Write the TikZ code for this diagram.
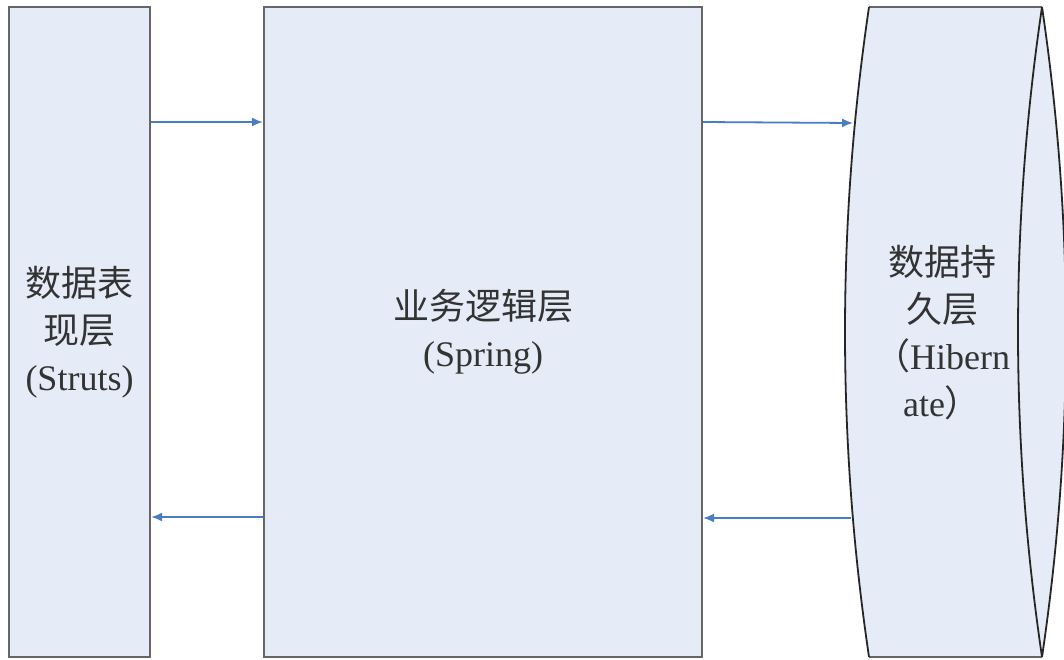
\documentclass[tikz,border=0pt]{standalone}
\usepackage{fontspec}
\setmainfont{Liberation Serif}
\newfontfamily\cjk{Noto Sans CJK SC}
\usetikzlibrary{arrows.meta}
\definecolor{boxfill}{HTML}{E6ECF7}
\definecolor{flowblue}{HTML}{4A7CC4}

\begin{document}
\begin{tikzpicture}
[x=1pt, y=-1pt,
layer/.style={rectangle, draw=black!60, line width=2.2pt, fill=boxfill, minimum height=650pt, align=center, text=black!80, font=\fontsize{36}{47}\selectfont},
edge/.style={black!85, line width=1.8pt},
flow/.style={-{Latex[length=11pt,width=9pt]}, draw=flowblue, line width=1.8pt}]

\useasboundingbox (0,0) rectangle (1064,659);

% persistence layer drawn as a drum
\fill[boxfill] (869,7) .. controls (837,223.7) and (837,440.3) .. (869,657) -- (1042,657) .. controls (1074,440.3) and (1074,223.7) .. (1042,7) -- cycle;
\draw[black!60, line width=2.2pt] (869,7) -- (1042,7);
\draw[black!60, line width=2.2pt] (869,657) -- (1042,657);
\draw[edge] (869,7) .. controls (837,223.7) and (837,440.3) .. (869,657);
\draw[edge] (1042,7) .. controls (1010,223.7) and (1010,440.3) .. (1042,657);
\draw[edge] (1042,7) .. controls (1074,223.7) and (1074,440.3) .. (1042,657);

\node[layer, minimum width=141pt] (1) at (79.5,332) {{\cjk 数据表}\\{\cjk 现层}\\(Struts)};
\node[layer, minimum width=438pt] (2) at (483,332) {{\cjk 业务逻辑层}\\(Spring)};
\node[align=center, text=black!80, font=\fontsize{36}{47}\selectfont] (3) at (942,333) {{\cjk 数据持}\\{\cjk 久层}\\{\cjk （}Hibern\\ate{\cjk ）}};

\coordinate (up) at (0,122);
\coordinate (down) at (0,517);
\coordinate (in) at (853,123);
\coordinate (out) at (851,518);

\draw[flow] (1.east |- up) -- (2.west |- up);
\draw[flow] (2.west |- down) -- (1.east |- down);
\draw[flow] (2.east |- up) -- (in);
\draw[flow] (out) -- (2.east |- out);
\end{tikzpicture}
\end{document}
